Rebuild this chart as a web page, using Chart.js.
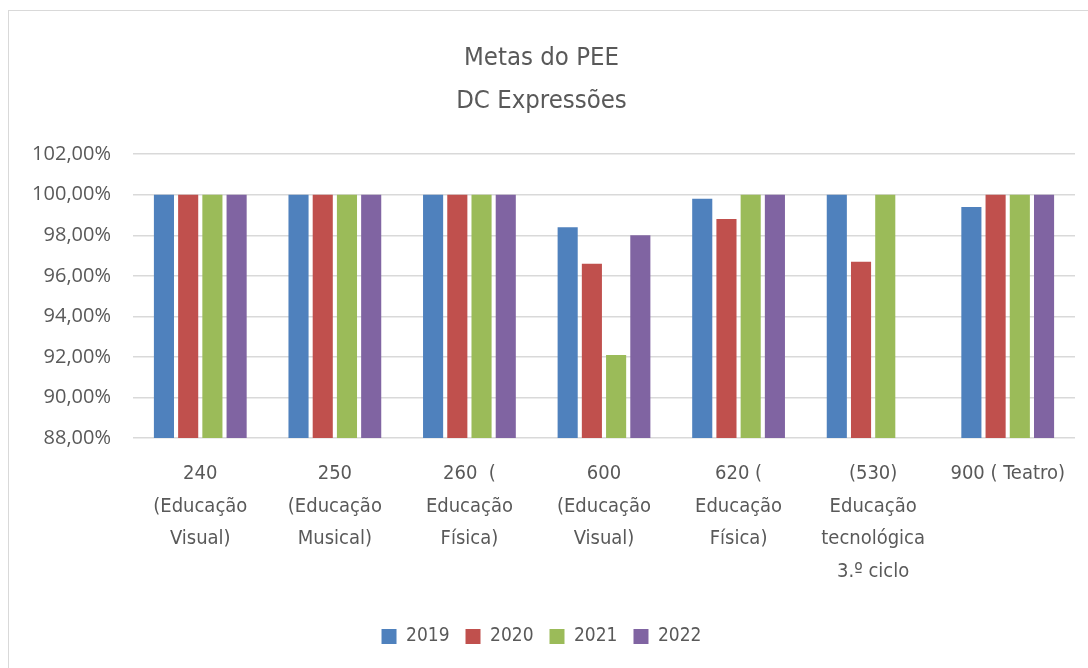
<!DOCTYPE html>
<html>
<head>
<meta charset="utf-8">
<script src="https://cdn.jsdelivr.net/npm/chart.js@4"></script>
<style>
  html, body { margin: 0; padding: 0; background: #fff; }
  #wrap { width: 1088px; height: 668px; position: relative; }
</style>
</head>
<body>
<div id="wrap"><canvas id="chart" width="1088" height="668"></canvas></div>
<script>
// ---------------------------
// Data
// ---------------------------
const categories = [
  ["240", "(Educação", "Visual)"],
  ["250", "(Educação", "Musical)"],
  ["260  (", "Educação", "Física)"],
  ["600", "(Educação", "Visual)"],
  ["620 (", "Educação", "Física)"],
  ["(530)", "Educação", "tecnológica", "3.º ciclo"],
  ["900 ( Teatro)"]
];
const years = ["2019", "2020", "2021", "2022"];
const v2019 = [100, 100, 100, 98.4, 99.8, 100, 99.4];
const v2020 = [100, 100, 100, 96.6, 98.8, 96.7, 100];
const v2021 = [100, 100, 100, 92.1, 100, 100, 100];
const v2022 = [100, 100, 100, 98.0, 100, null, 100];
const yTicks = [88, 90, 92, 94, 96, 98, 100, 102];

const colors = ["#4F81BD", "#C0504D", "#9BBB59", "#8064A2"];
const series = [v2019, v2020, v2021, v2022];

const textColor = "#595959";
const narrow = "'DejaVu Sans Condensed', 'Liberation Sans Narrow', sans-serif";

// outer frame like the spreadsheet chart border
const framePlugin = {
  id: "frame",
  beforeDraw(chart) {
    const ctx = chart.ctx;
    ctx.save();
    ctx.fillStyle = "#fff";
    ctx.fillRect(0, 0, chart.width, chart.height);
    ctx.strokeStyle = "#d9d9d9";
    ctx.lineWidth = 1;
    ctx.strokeRect(8.5, 10.5, 1200, 800);
    ctx.restore();
  }
};

new Chart(document.getElementById("chart"), {
  type: "bar",
  data: {
    labels: categories,
    datasets: years.map((y, i) => ({
      label: y,
      data: series[i],
      backgroundColor: colors[i],
      borderWidth: 0,
      categoryPercentage: 0.72,
      barPercentage: 0.83
    }))
  },
  options: {
    responsive: false,
    animation: false,
    layout: { padding: { left: 8, right: 13, top: 10, bottom: 12 } },
    plugins: {
      title: {
        display: true,
        text: ["Metas do PEE", "DC Expressões"],
        color: textColor,
        font: { family: narrow, size: 25.5, weight: "normal", lineHeight: 1.69 },
        padding: { top: 27, bottom: 31 }
      },
      legend: {
        position: "bottom",
        labels: {
          color: textColor,
          boxWidth: 15,
          boxHeight: 15,
          padding: 16,
          font: { family: narrow, size: 19 }
        }
      },
      tooltip: { enabled: false }
    },
    scales: {
      x: {
        grid: { display: false },
        border: { display: false },
        afterFit(scale) { scale.height = 173; },
        ticks: {
          color: textColor,
          maxRotation: 0,
          autoSkip: false,
          padding: 12,
          font: { family: narrow, size: 20, lineHeight: 1.62 }
        }
      },
      y: {
        min: 88,
        max: 102,
        afterFit(scale) { scale.width = 125; },
        afterBuildTicks(scale) { scale.ticks = yTicks.map(v => ({ value: v })); },
        grid: { color: "#d9d9d9", lineWidth: 1.5, drawTicks: false },
        border: { display: false },
        ticks: {
          color: textColor,
          padding: 22,
          font: { family: "'Open Sans', sans-serif", size: 20 },
          callback: v => v.toFixed(2).replace(".", ",") + "%"
        }
      }
    }
  },
  plugins: [framePlugin]
});
</script>
</body>
</html>
